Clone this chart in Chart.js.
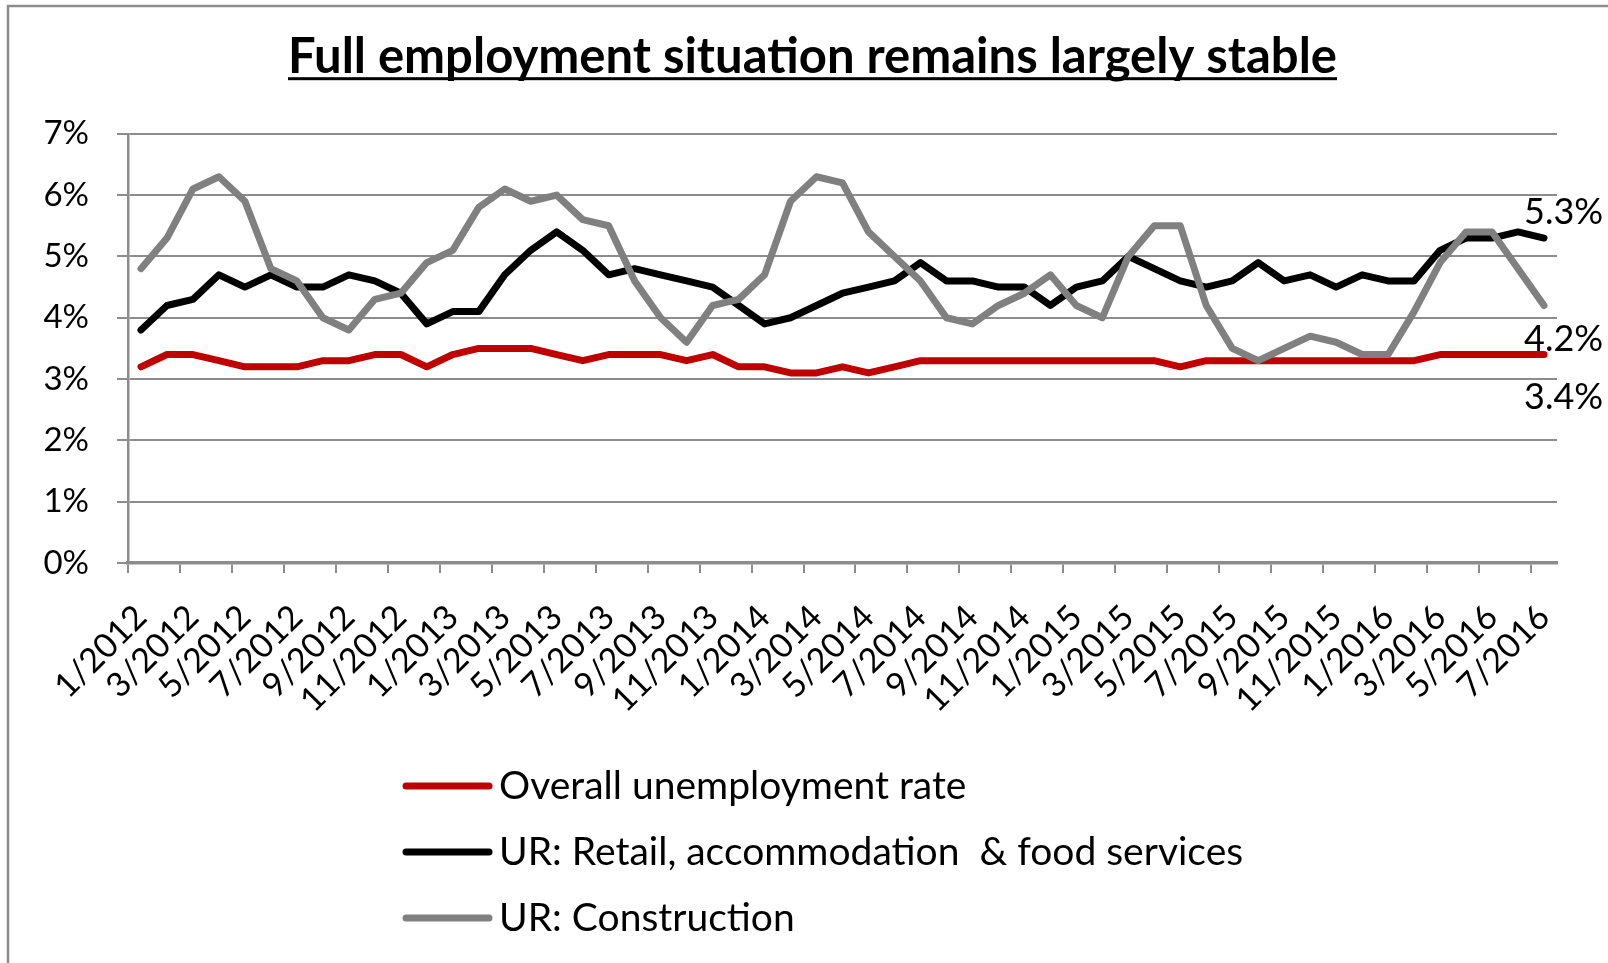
<!DOCTYPE html>
<html>
<head>
<meta charset="utf-8">
<script src="https://cdn.jsdelivr.net/npm/chart.js@4.4.1/dist/chart.umd.min.js"></script>
<style>
  html, body { margin: 0; padding: 0; background: #fff; }
  #wrap { width: 1608px; height: 963px; }
</style>
</head>
<body>
<div id="wrap"><canvas id="chart" width="1608" height="963"></canvas></div>
<script>
// months 1/2012 .. 7/2016
const years = [2012, 2013, 2014, 2015, 2016];
const months = [];
years.forEach(y => {
  for (let m = 1; m <= 12; m++) {
    if (y === 2016 && m > 7) break;
    months.push(m + "/" + y);
  }
});

const overall = [3.2, 3.4, 3.4, 3.3, 3.2, 3.2, 3.2, 3.3, 3.3, 3.4, 3.4, 3.2,
  3.4, 3.5, 3.5, 3.5, 3.4, 3.3, 3.4, 3.4, 3.4, 3.3, 3.4, 3.2,
  3.2, 3.1, 3.1, 3.2, 3.1, 3.2, 3.3, 3.3, 3.3, 3.3, 3.3, 3.3,
  3.3, 3.3, 3.3, 3.3, 3.2, 3.3, 3.3, 3.3, 3.3, 3.3, 3.3, 3.3,
  3.3, 3.3, 3.4, 3.4, 3.4, 3.4, 3.4];

const retail = [3.8, 4.2, 4.3, 4.7, 4.5, 4.7, 4.5, 4.5, 4.7, 4.6, 4.4, 3.9,
  4.1, 4.1, 4.7, 5.1, 5.4, 5.1, 4.7, 4.8, 4.7, 4.6, 4.5, 4.2,
  3.9, 4.0, 4.2, 4.4, 4.5, 4.6, 4.9, 4.6, 4.6, 4.5, 4.5, 4.2,
  4.5, 4.6, 5.0, 4.8, 4.6, 4.5, 4.6, 4.9, 4.6, 4.7, 4.5, 4.7,
  4.6, 4.6, 5.1, 5.3, 5.3, 5.4, 5.3];

const construction = [4.8, 5.3, 6.1, 6.3, 5.9, 4.8, 4.6, 4.0, 3.8, 4.3, 4.4, 4.9,
  5.1, 5.8, 6.1, 5.9, 6.0, 5.6, 5.5, 4.6, 4.0, 3.6, 4.2, 4.3,
  4.7, 5.9, 6.3, 6.2, 5.4, 5.0, 4.6, 4.0, 3.9, 4.2, 4.4, 4.7,
  4.2, 4.0, 5.0, 5.5, 5.5, 4.2, 3.5, 3.3, 3.5, 3.7, 3.6, 3.4,
  3.4, 4.1, 4.9, 5.4, 5.4, 4.8, 4.2];

const seriesNames = ["Overall unemployment rate",
  "UR: Retail, accommodation  & food services",
  "UR: Construction"];
const seriesColors = ["#c00000", "#000000", "#808080"];
const yTicks = [0, 1, 2, 3, 4, 5, 6, 7];

const gridGray = "#8c8c8c";
const fam = "Lato, 'Open Sans', sans-serif";
Chart.defaults.font.family = fam;
Chart.defaults.color = "#000";

// frame around the figure
const framePlugin = {
  id: "frame",
  beforeDraw(chart) {
    const c = chart.ctx;
    c.save();
    c.fillStyle = "#fff";
    c.fillRect(0, 0, chart.width, chart.height);
    c.strokeStyle = gridGray;
    c.lineWidth = 2.5;
    c.strokeRect(8, 6, chart.width + 20, chart.height + 20);
    c.restore();
  }
};

// title sits a bit right of centre in the original, plus underline
const underlinePlugin = {
  id: "underline",
  afterLayout(chart) {
    if (chart.titleBlock) chart.titleBlock.left = 68;
  },
  afterDraw(chart) {
    const t = chart.titleBlock;
    if (!t) return;
    const c = chart.ctx;
    const f = chart.options.plugins.title.font;
    c.save();
    c.font = "bold " + f.size + "px " + fam;
    c.textBaseline = "middle";
    const w = c.measureText(chart.options.plugins.title.text).width;
    const base = c.measureText("F").actualBoundingBoxDescent;
    const cx = (t.left + t.right) / 2;
    const cy = t.top + t.options.padding.top + f.size * 1.2 / 2;
    c.fillStyle = "#000";
    c.fillRect(cx - w / 2, cy + base + 4, w, 3);
    c.restore();
  }
};

// value labels at the end of each line
const endLabelOffsets = [43, -26, 34];
const endLabelPlugin = {
  id: "endLabels",
  afterDatasetsDraw(chart) {
    const c = chart.ctx;
    c.save();
    c.font = "36px " + fam;
    c.fillStyle = "#000";
    c.textBaseline = "middle";
    c.textAlign = "left";
    chart.data.datasets.forEach((ds, i) => {
      const meta = chart.getDatasetMeta(i);
      const p = meta.data[meta.data.length - 1];
      const v = ds.data[ds.data.length - 1];
      c.fillText(v.toFixed(1) + "%", p.x - 20, p.y + endLabelOffsets[i]);
    });
    c.restore();
  }
};

// legend stacked below the axis
const legendPlugin = {
  id: "stackLegend",
  afterDraw(chart) {
    const c = chart.ctx;
    c.save();
    c.font = "39px " + fam;
    c.textBaseline = "middle";
    c.lineCap = "round";
    chart.data.datasets.forEach((ds, i) => {
      const y = 786 + i * 66;
      c.strokeStyle = ds.borderColor;
      c.lineWidth = 7;
      c.beginPath();
      c.moveTo(406, y);
      c.lineTo(489, y);
      c.stroke();
      c.fillStyle = "#000";
      c.fillText(ds.label, 499, y);
    });
    c.restore();
  }
};

new Chart(document.getElementById("chart"), {
  type: "line",
  data: {
    labels: months,
    datasets: [overall, retail, construction].map((d, i) => ({
      label: seriesNames[i],
      data: d,
      borderColor: seriesColors[i],
      backgroundColor: seriesColors[i],
      borderWidth: 7,
      pointRadius: 0,
      tension: 0,
      borderJoinStyle: "round",
      borderCapStyle: "round",
      order: 3 - i
    }))
  },
  options: {
    responsive: false,
    animation: false,
    layout: { padding: { left: 0, right: 51, top: 0, bottom: 0 } },
    plugins: {
      legend: { display: false },
      tooltip: { enabled: false },
      title: {
        display: true,
        text: "Full employment situation remains largely stable",
        font: { size: 49, weight: "bold" },
        color: "#000",
        padding: { top: 28, bottom: 47 }
      }
    },
    scales: {
      x: {
        offset: true,
        afterFit(s) { s.height = 400; },
        grid: {
          offset: true,
          drawOnChartArea: false,
          drawTicks: true,
          tickLength: 10,
          lineWidth: 2,
          color: ctx => (ctx.index % 2 === 0 ? gridGray : "rgba(0,0,0,0)")
        },
        border: { display: true, color: gridGray, width: 3.5 },
        ticks: {
          autoSkip: false,
          minRotation: 45,
          maxRotation: 45,
          padding: 24,
          font: { size: 34 },
          color: "#000",
          callback: function (v, i) { return i % 2 === 0 ? this.getLabelForValue(v) : ""; }
        }
      },
      y: {
        min: yTicks[0],
        max: yTicks[yTicks.length - 1],
        afterFit(s) { s.width = 128; },
        afterBuildTicks(s) { s.ticks = yTicks.map(v => ({ value: v })); },
        grid: { color: gridGray, lineWidth: 2, tickLength: 11 },
        border: { display: true, color: gridGray, width: 2.5 },
        ticks: {
          padding: 28,
          font: { size: 33 },
          color: "#000",
          callback: v => v + "%"
        }
      }
    }
  },
  plugins: [framePlugin, underlinePlugin, endLabelPlugin, legendPlugin]
});
</script>
</body>
</html>
